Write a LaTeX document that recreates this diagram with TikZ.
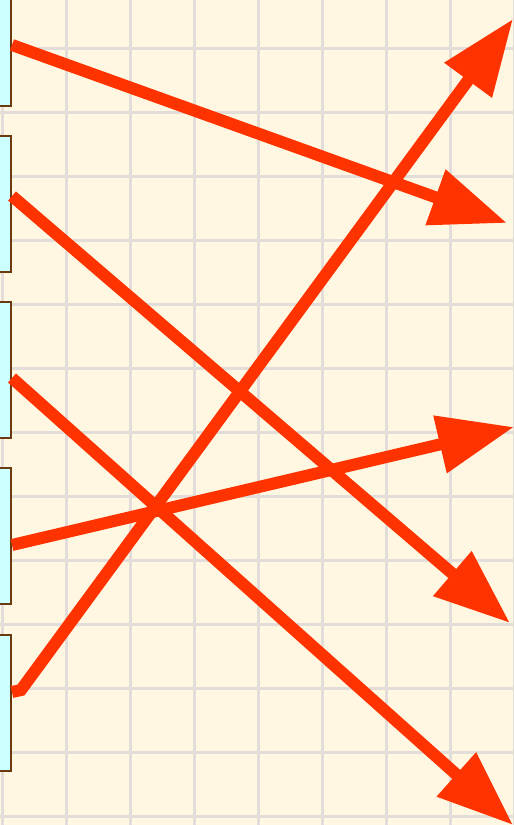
\documentclass[tikz,border=0pt]{standalone}
\usetikzlibrary{arrows.meta,calc}
\definecolor{bg}{HTML}{FFF7E2}
\definecolor{gridc}{HTML}{E2DDD8}
\definecolor{boxfill}{HTML}{CCFFFF}
\definecolor{boxline}{HTML}{6B3A10}
\definecolor{arr}{HTML}{FF3300}
\begin{document}
\begin{tikzpicture}[x=1pt,y=-1pt,
  slot/.style={draw=boxline, line width=2pt, fill=boxfill, minimum width=26pt, minimum height=136pt, inner sep=0pt, anchor=east},
  link/.style={draw=arr, line width=12pt, line join=miter, -{Triangle[length=76pt 0 0,width=56pt 0 0]}},
  gridline/.style={draw=gridc, line width=3pt}]
\fill[bg] (0,0) rectangle (514,825);
\useasboundingbox (0,0) rectangle (514,825);
\foreach \gx in {2,66,...,514} \draw[gridline] (\gx,0) -- (\gx,825);
\foreach \gy in {48,112,...,816} \draw[gridline] (0,\gy) -- (514,\gy);
\node[slot] (b1) at (12,38) {};
\node[slot] (b2) at (12,204) {};
\node[slot] (b3) at (12,370) {};
\node[slot] (b4) at (12,536) {};
\node[slot] (b5) at (12,703) {};
\coordinate (t1) at (507,223);
\coordinate (t2) at (513,19);
\coordinate (t3) at (510,623);
\coordinate (t4) at (514,427);
\coordinate (t5) at (513,825);
\draw[link] ($(b1.east)+(0,7)$) -- (t1);
\draw[link] ($(b2.east)+(0,-8)$) -- (t3);
\draw[link] ($(b3.east)+(0,8)$) -- (t5);
\draw[link] ($(b4.east)+(0,9)$) -- (t4);
\draw[link] ($(b5.east)+(0,-11)$) -- ++(9,-2) -- (t2);
\end{tikzpicture}
\end{document}
